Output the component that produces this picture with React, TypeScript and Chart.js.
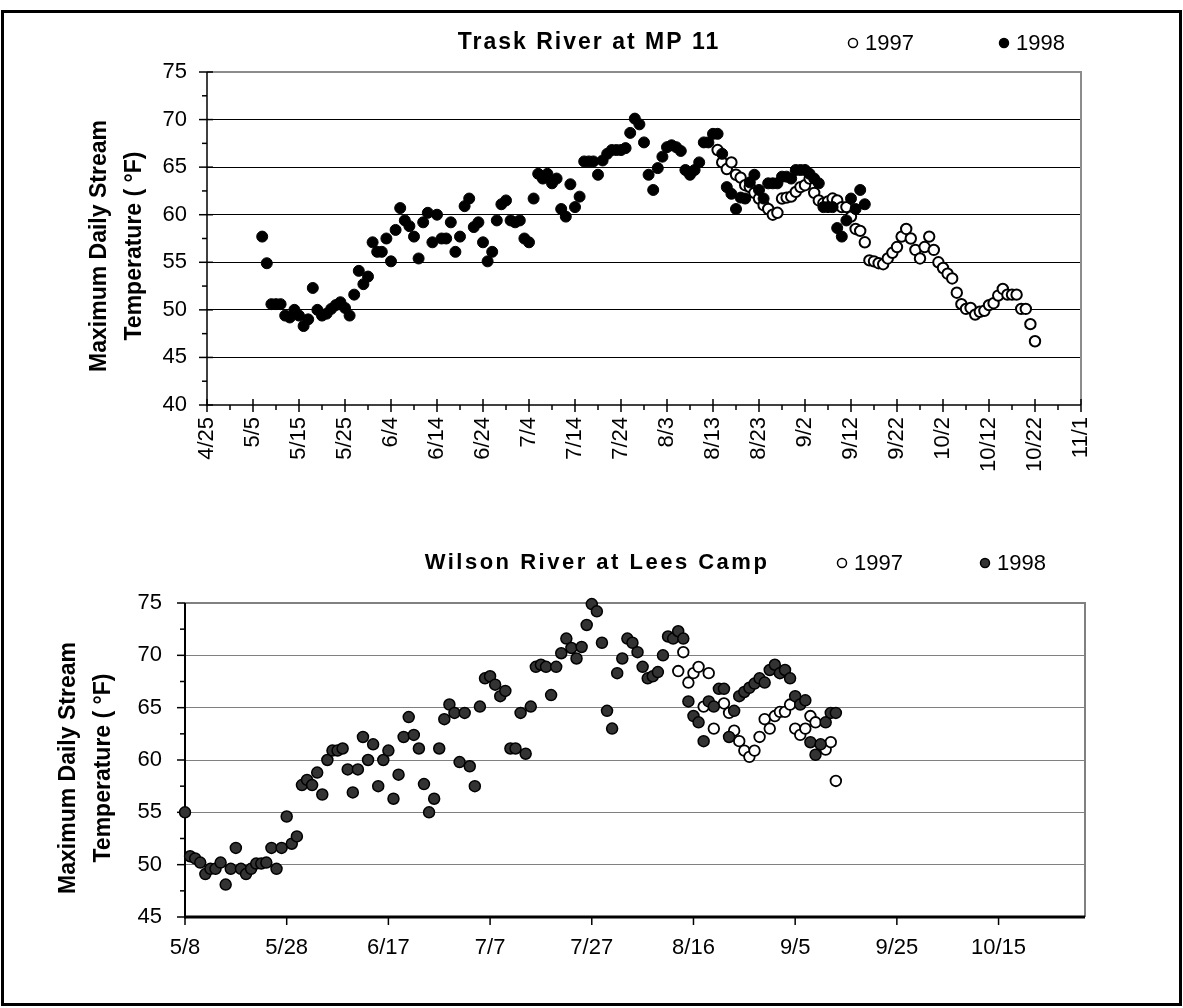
import React, { useEffect, useRef } from "react";
import { Chart, registerables } from "chart.js";

Chart.register(...registerables);

const FONT = "'Liberation Sans', Arial, Helvetica, sans-serif";
const W = 1183;

// ---------- shared text ----------
const yAxisTitleLines = ["Maximum Daily Stream", "Temperature ( °F)"];
const legendLabels = ["1997", "1998"];

// ---------- Trask River at MP 11 ----------
const traskTitle = "Trask River at MP 11";
const traskXTickLabels = ["4/25", "5/5", "5/15", "5/25", "6/4", "6/14", "6/24", "7/4", "7/14", "7/24", "8/3", "8/13", "8/23", "9/2", "9/12", "9/22", "10/2", "10/12", "10/22", "11/1"];
const traskYTicks = [40, 45, 50, 55, 60, 65, 70, 75];
const trask1998Start = "5/7";
const trask1998Values = [
  57.7, 54.9, 50.6, 50.6, 50.6, 49.4, 49.2, 50.0, 49.4, 48.3,
  49.0, 52.3, 50.0, 49.4, 49.6, 50.1, 50.5, 50.8, 50.2, 49.4,
  51.6, 54.1, 52.7, 53.5, 57.1, 56.1, 56.1, 57.5, 55.1, 58.4,
  60.7, 59.4, 58.8, 57.7, 55.4, 59.2, 60.2, 57.1, 60.0, 57.5,
  57.5, 59.2, 56.1, 57.7, 60.9, 61.7, 58.7, 59.2, 57.1, 55.1,
  56.1, 59.4, 61.1, 61.5, 59.4, 59.2, 59.4, 57.5, 57.1, 61.7,
  64.3, 63.8, 64.3, 63.3, 63.8, 60.6, 59.8, 63.2, 60.8, 61.9,
  65.6, 65.6, 65.6, 64.2, 65.7, 66.4, 66.8, 66.8, 66.8, 67.0,
  68.6, 70.1, 69.5, 67.6, 64.2, 62.6, 64.9, 66.1, 67.1, 67.3,
  67.1, 66.7, 64.7, 64.2, 64.7, 65.5, 67.6, 67.6, 68.5, 68.5,
  66.4, 62.9, 62.2, 60.6, 61.8, 61.7, 63.4, 64.2, 62.6, 61.7,
  63.3, 63.3, 63.3, 64.0, 64.0, 63.8, 64.7, 64.7, 64.7, 64.3,
  63.8, 63.3, 60.8, 60.8, 60.8, 58.6, 57.7, 59.4, 61.7, 60.6, 62.6, 61.1,
];
const trask1997Start = "8/14";
const trask1997Values = [
  66.8, 65.5, 64.8, 65.5, 64.2, 63.9, 63.1, 62.9, 62.3, 61.7,
  61.0, 60.6, 60.0, 60.2, 61.7, 61.8, 61.9, 62.4, 62.9, 63.1,
  63.8, 62.3, 61.5, 61.2, 61.4, 61.7, 61.5, 60.8, 60.8, 59.8,
  58.5, 58.3, 57.1, 55.2, 55.1, 54.9, 54.8, 55.4, 56.0, 56.6,
  57.7, 58.5, 57.5, 56.3, 55.4, 56.6, 57.7, 56.3, 55.0, 54.4,
  53.8, 53.3, 51.8, 50.6, 50.1, 50.2, 49.5, 49.8, 49.9, 50.5,
  50.7, 51.5, 52.2, 51.6, 51.6, 51.6, 50.1, 50.1, 48.5, 46.7,
];

// ---------- Wilson River at Lees Camp ----------
const wilsonTitle = "Wilson River at Lees Camp";
const wilsonXTickLabels = ["5/8", "5/28", "6/17", "7/7", "7/27", "8/16", "9/5", "9/25", "10/15"];
const wilsonXEnd = "11/1";
const wilsonYTicks = [45, 50, 55, 60, 65, 70, 75];
const wilson1998Start = "5/8";
const wilson1998Values = [
  55.0, 50.8, 50.6, 50.2, 49.1, 49.6, 49.6, 50.2, 48.1, 49.6,
  51.6, 49.6, 49.1, 49.6, 50.1, 50.1, 50.2, 51.6, 49.6, 51.6,
  54.6, 52.0, 52.7, 57.6, 58.1, 57.6, 58.8, 56.7, 60.0, 60.9,
  60.9, 61.1, 59.1, 56.9, 59.1, 62.2, 60.0, 61.5, 57.5, 60.0,
  60.9, 56.3, 58.6, 62.2, 64.1, 62.4, 61.1, 57.7, 55.0, 56.3,
  61.1, 63.9, 65.3, 64.5, 59.8, 64.5, 59.4, 57.5, 65.1, 67.8,
  68.0, 67.2, 66.1, 66.6, 61.1, 61.1, 64.5, 60.6, 65.1, 68.9,
  69.1, 68.9, 66.2, 68.9, 70.2, 71.6, 70.7, 69.7, 70.8, 72.9,
  74.9, 74.2, 71.2, 64.7, 63.0, 68.3, 69.7, 71.6, 71.2, 70.3,
  68.9, 67.8, 68.0, 68.4, 70.0, 71.8, 71.6, 72.3, 71.6, 65.6,
  64.2, 63.6, 61.8, 65.6, 65.1, 66.8, 66.8, 62.2, 64.7, 66.1,
  66.5, 66.9, 67.3, 67.8, 67.4, 68.6, 69.1, 68.3, 68.6, 67.8,
  66.1, 65.3, 65.7, 61.7, 60.5, 61.5, 63.6, 64.5, 64.5,
];
const wilson1997Start = "8/13";
const wilson1997Values: (number | null)[] = [
  68.5, 70.3, 67.4, 68.3, 68.9, 65.1, 68.3, 63.0, null, 65.4,
  64.5, 62.8, 61.8, 60.9, 60.3, 60.9, 62.2, 63.9, 63.0, 64.2,
  64.6, 64.6, 65.3, 63.0, 62.4, 63.0, 64.2, 63.6, null, 61.0,
  61.7, 58.0,
];

// ---------- helpers ----------
const MONTH_START = [0, 31, 59, 90, 120, 151, 181, 212, 243, 273, 304, 334];
function toDay(md: string): number {
  const [m, d] = md.split("/").map(Number);
  return MONTH_START[m - 1] + d;
}
function toPoints(start: string, values: (number | null)[]) {
  const s = toDay(start);
  const out: { x: number; y: number }[] = [];
  values.forEach((v, i) => {
    if (v != null) out.push({ x: s + i, y: v });
  });
  return out;
}

type Series = { start: string; values: (number | null)[]; fill: string; border: string; radius: number; bw: number };
type LegendItem = { x: number; y: number; label: string; fill: string; border: string };
type Spec = {
  height: number;
  area: { left: number; right: number; top: number; bottom: number };
  xMin: string; xMax: string; xTickLabels: string[]; xMinorStep: number; rotate: boolean; xLabelPad: number;
  yMin: number; yMax: number; yTicks: number[]; yMinorStep: number; yLabelPad: number;
  gridColor: string; frameColor: string; xAxisWidth: number; yAxisWidth: number;
  xMajorTick: [number, number]; xMinorTick: [number, number];
  yMajorTick: [number, number]; yMinorTick: [number, number];
  title: string; titleX: number; titleY: number; titleSize: number; titleSpacing: number;
  legend: LegendItem[];
  yTitleX: [number, number]; yTitleY: number; yTitleSize: number;
  series: Series[];
};

const traskSpec: Spec = {
  height: 505,
  area: { left: 207, right: 1081, top: 72, bottom: 405 },
  xMin: traskXTickLabels[0], xMax: traskXTickLabels[traskXTickLabels.length - 1], xTickLabels: traskXTickLabels,
  xMinorStep: 5, rotate: true, xLabelPad: 12,
  yMin: 40, yMax: 75, yTicks: traskYTicks, yMinorStep: 2.5, yLabelPad: 20,
  gridColor: "#000000", frameColor: "#8c8c8c", xAxisWidth: 1.5, yAxisWidth: 1.5,
  xMajorTick: [6, 7], xMinorTick: [0, 5], yMajorTick: [8, 6], yMinorTick: [5, 0],
  title: traskTitle, titleX: 589, titleY: 43, titleSize: 23, titleSpacing: 2,
  legend: [
    { x: 853, y: 43, label: legendLabels[0], fill: "#ffffff", border: "#000000" },
    { x: 1004, y: 43, label: legendLabels[1], fill: "#000000", border: "#000000" },
  ],
  yTitleX: [100, 135], yTitleY: 246, yTitleSize: 23,
  series: [
    { start: trask1998Start, values: trask1998Values, fill: "#000000", border: "#000000", radius: 5.5, bw: 1 },
    { start: trask1997Start, values: trask1997Values, fill: "#ffffff", border: "#000000", radius: 5.2, bw: 2 },
  ],
};

const wilsonSpec: Spec = {
  height: 503,
  area: { left: 185, right: 1085, top: 98, bottom: 412 },
  xMin: wilsonXTickLabels[0], xMax: wilsonXEnd, xTickLabels: wilsonXTickLabels,
  xMinorStep: 0, rotate: false, xLabelPad: 18,
  yMin: 45, yMax: 75, yTicks: wilsonYTicks, yMinorStep: 2.5, yLabelPad: 23,
  gridColor: "#808080", frameColor: "#808080", xAxisWidth: 3, yAxisWidth: 2,
  xMajorTick: [0, 8], xMinorTick: [0, 0], yMajorTick: [8, 0], yMinorTick: [5, 0],
  title: wilsonTitle, titleX: 597, titleY: 58, titleSize: 22, titleSpacing: 2.5,
  legend: [
    { x: 842, y: 58, label: legendLabels[0], fill: "#ffffff", border: "#000000" },
    { x: 985, y: 58, label: legendLabels[1], fill: "#333333", border: "#000000" },
  ],
  yTitleX: [69, 104], yTitleY: 263, yTitleSize: 23,
  series: [
    { start: wilson1998Start, values: wilson1998Values, fill: "#333333", border: "#000000", radius: 5.5, bw: 1.5 },
    { start: wilson1997Start, values: wilson1997Values, fill: "#ffffff", border: "#000000", radius: 5.3, bw: 1.8 },
  ],
};

function Panel({ spec, top }: { spec: Spec; top: number }) {
  const ref = useRef<HTMLCanvasElement>(null);
  useEffect(() => {
    const canvas = ref.current;
    if (!canvas) return;
    const s = spec;
    const xLabelByDay = new Map(s.xTickLabels.map((l) => [toDay(l), l] as [number, string]));

    const line = (ctx: CanvasRenderingContext2D, x1: number, y1: number, x2: number, y2: number) => {
      ctx.beginPath();
      ctx.moveTo(x1, y1);
      ctx.lineTo(x2, y2);
      ctx.stroke();
    };

    const decor = {
      id: "decor",
      beforeDatasetsDraw(chart: any) {
        const { ctx, chartArea: a, scales } = chart;
        const x = scales.x;
        const y = scales.y;
        ctx.save();
        ctx.strokeStyle = s.frameColor;
        ctx.lineWidth = 2;
        ctx.beginPath();
        ctx.moveTo(a.left, a.top);
        ctx.lineTo(a.right, a.top);
        ctx.lineTo(a.right, a.bottom);
        ctx.stroke();
        ctx.strokeStyle = "#000";
        ctx.lineWidth = 1.5;
        for (let v = s.yMin; v <= s.yMax + 1e-6; v += s.yMinorStep) {
          const py = y.getPixelForValue(v);
          const major = s.yTicks.some((t) => Math.abs(t - v) < 1e-6);
          const [l, r] = major ? s.yMajorTick : s.yMinorTick;
          if (l + r > 0) line(ctx, a.left - l, py, a.left + r, py);
        }
        const x0 = toDay(s.xMin);
        const x1 = toDay(s.xMax);
        if (s.xMinorStep > 0) {
          for (let d = x0; d <= x1; d += s.xMinorStep) {
            if (xLabelByDay.has(d)) continue;
            const px = x.getPixelForValue(d);
            line(ctx, px, a.bottom - s.xMinorTick[0], px, a.bottom + s.xMinorTick[1]);
          }
        }
        xLabelByDay.forEach((_l, d) => {
          const px = x.getPixelForValue(d);
          line(ctx, px, a.bottom - s.xMajorTick[0], px, a.bottom + s.xMajorTick[1]);
        });
        ctx.lineWidth = s.yAxisWidth;
        line(ctx, a.left, a.top, a.left, a.bottom + s.xAxisWidth / 2);
        ctx.lineWidth = s.xAxisWidth;
        line(ctx, a.left, a.bottom, a.right, a.bottom);
        ctx.restore();
      },
      afterDraw(chart: any) {
        const { ctx } = chart;
        ctx.save();
        ctx.fillStyle = "#000";
        ctx.font = `bold ${s.titleSize}px ${FONT}`;
        (ctx as any).letterSpacing = `${s.titleSpacing}px`;
        ctx.textAlign = "center";
        ctx.textBaseline = "middle";
        ctx.fillText(s.title, s.titleX, s.titleY);
        (ctx as any).letterSpacing = "0px";
        ctx.font = `22px ${FONT}`;
        ctx.textAlign = "left";
        s.legend.forEach((it) => {
          ctx.beginPath();
          ctx.arc(it.x, it.y, 4.5, 0, Math.PI * 2);
          ctx.fillStyle = it.fill;
          ctx.fill();
          ctx.lineWidth = 1.5;
          ctx.strokeStyle = it.border;
          ctx.stroke();
          ctx.fillStyle = "#000";
          ctx.fillText(it.label, it.x + 12, it.y + 1);
        });
        ctx.font = `bold ${s.yTitleSize}px ${FONT}`;
        ctx.textAlign = "center";
        yAxisTitleLines.forEach((txt, i) => {
          ctx.save();
          ctx.translate(s.yTitleX[i], s.yTitleY);
          ctx.rotate(-Math.PI / 2);
          ctx.fillText(txt, 0, 0);
          ctx.restore();
        });
        ctx.restore();
      },
    };

    const chart = new Chart(canvas, {
      type: "scatter",
      data: {
        datasets: s.series.map((se) => ({
          data: toPoints(se.start, se.values),
          backgroundColor: se.fill,
          borderColor: se.border,
          pointBackgroundColor: se.fill,
          pointBorderColor: se.border,
          pointRadius: se.radius,
          pointHoverRadius: se.radius,
          pointBorderWidth: se.bw,
          showLine: false,
          clip: false as any,
        })),
      },
      options: {
        responsive: false,
        animation: false,
        devicePixelRatio: 1,
        events: [],
        layout: { padding: { left: 0, top: s.area.top, right: W - s.area.right, bottom: 0 } },
        plugins: { legend: { display: false }, title: { display: false }, tooltip: { enabled: false } },
        scales: {
          x: {
            type: "linear",
            min: toDay(s.xMin),
            max: toDay(s.xMax),
            afterBuildTicks: (sc: any) => {
              sc.ticks = s.xTickLabels.map((l) => ({ value: toDay(l) }));
            },
            afterFit: (sc: any) => {
              sc.height = s.height - s.area.bottom;
            },
            grid: { display: false, drawTicks: false },
            border: { display: false },
            ticks: {
              autoSkip: false,
              maxRotation: s.rotate ? 90 : 0,
              minRotation: s.rotate ? 90 : 0,
              padding: s.xLabelPad,
              color: "#000",
              font: { family: FONT, size: 22 },
              callback: (v: any) => xLabelByDay.get(Number(v)) ?? "",
            },
          },
          y: {
            type: "linear",
            min: s.yMin,
            max: s.yMax,
            afterBuildTicks: (sc: any) => {
              sc.ticks = s.yTicks.map((v) => ({ value: v }));
            },
            afterFit: (sc: any) => {
              sc.width = s.area.left;
            },
            grid: {
              display: true,
              drawTicks: false,
              lineWidth: 1,
              color: (c: any) =>
                c.tick && (c.tick.value === s.yMin || c.tick.value === s.yMax) ? "rgba(0,0,0,0)" : s.gridColor,
            },
            border: { display: false },
            ticks: {
              padding: s.yLabelPad,
              color: "#000",
              font: { family: FONT, size: 22 },
              callback: (v: any) => String(v),
            },
          },
        },
      } as any,
      plugins: [decor],
    });
    return () => chart.destroy();
  }, [spec]);
  return (
    <canvas
      ref={ref}
      width={W}
      height={spec.height}
      style={{ position: "absolute", left: 0, top, width: W, height: spec.height, display: "block" }}
    />
  );
}

export default function App() {
  return (
    <div style={{ position: "absolute", left: 0, top: 0, width: W, height: 1008, background: "#fff", overflow: "hidden" }}>
      <Panel spec={traskSpec} top={0} />
      <Panel spec={wilsonSpec} top={505} />
      <div
        style={{
          position: "absolute",
          left: 1,
          top: 10,
          width: 1181,
          height: 996,
          border: "3px solid #000",
          boxSizing: "border-box",
          pointerEvents: "none",
        }}
      />
    </div>
  );
}
